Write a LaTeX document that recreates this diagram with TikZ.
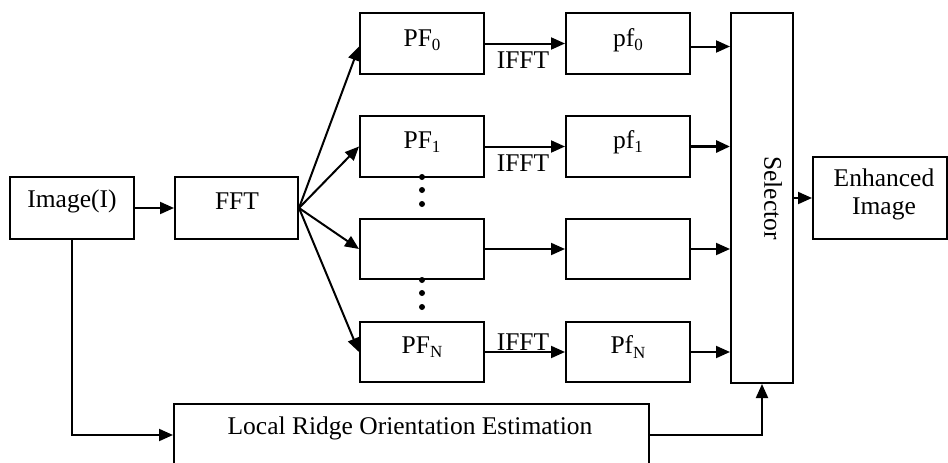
\documentclass[tikz,border=0pt]{standalone}
\usepackage{fontspec}
\setmainfont{Liberation Serif}
\usetikzlibrary{arrows.meta,fit}
% lowered, smaller index used in the filter names
\newcommand{\sbs}[1]{\raisebox{-4.5pt}{\fontsize{17}{17}\selectfont #1}}
\begin{document}
\begin{tikzpicture}[x=1pt,y=-1pt,
  blk/.style={draw,line width=2pt,inner sep=0pt},
  lbl/.style={font=\fontsize{25.5}{28}\selectfont,inner sep=0pt},
  arr/.style={line width=2pt,-{Triangle[length=14pt,width=12pt]}},
  dotn/.style={circle,fill,inner sep=0pt,minimum size=6pt}]
\clip (0,0) rectangle (948,463);
\fill[white] (0,0) rectangle (948,463);

% blocks
\node[blk,fit={(10,177) (134,239)}] (img) {};
\node[blk,fit={(175,177) (298,239)}] (fft) {};
\node[blk,fit={(360,13) (484,74)}] (PF0) {};
\node[blk,fit={(360,116) (484,177)}] (PF1) {};
\node[blk,fit={(360,219) (484,279)}] (PFm) {};
\node[blk,fit={(360,322) (484,382)}] (PFN) {};
\node[blk,fit={(566,13) (690,74)}] (pf0) {};
\node[blk,fit={(566,116) (690,177)}] (pf1) {};
\node[blk,fit={(566,219) (690,279)}] (pfm) {};
\node[blk,fit={(566,322) (690,382)}] (pfN) {};
\node[blk,fit={(731,13) (793,383)}] (sel) {};
\node[blk,fit={(813,157) (947,239)}] (enh) {};
\node[blk,fit={(174,404) (649,466)}] (lroe) {};

% block texts
\node[lbl] (timg) at (72,201) {Image(I)};
\node[lbl] (tfft) at (237,201) {FFT};
\node[lbl] (tPF0) at (422,40) {PF\sbs{0}};
\node[lbl] (tPF1) at (422,142) {PF\sbs{1}};
\node[lbl] (tPFN) at (422,347) {PF\sbs{N}};
\node[lbl] (tpf0) at (628,40) {pf\sbs{0}};
\node[lbl] (tpf1) at (628,142) {pf\sbs{1}};
\node[lbl] (tpfN) at (628,347) {Pf\sbs{N}};
\node[lbl,rotate=-90] (tsel) at (773,198) {Selector};
\node[lbl,align=center] (tenh) at (884,194) {Enhanced\\Image};
\node[lbl] (tlroe) at (410,428) {Local Ridge Orientation Estimation};

% IFFT labels
\node[lbl] (i0) at (523,60) {IFFT};
\node[lbl] (i1) at (523,163) {IFFT};
\node[lbl] (iN) at (523,342) {IFFT};

% ellipsis dots between the filter rows
\node[dotn] (d1) at (422,177) {};
\node[dotn] (d2) at (422,190) {};
\node[dotn] (d3) at (422,204) {};
\node[dotn] (d4) at (422,280) {};
\node[dotn] (d5) at (422,293) {};
\node[dotn] (d6) at (422,307) {};

% connectors
\draw[arr] (img.east) -- (fft.west);
\coordinate (fan) at (fft.east);
\draw[arr] (fan) -- ([yshift=-3pt]PF0.west);
\draw[arr] (fan) -- (PF1.west);
\draw[arr] (fan) -- (PFm.west);
\draw[arr] (fan) -- (PFN.west);
\draw[arr] (PF0.east) -- (pf0.west);
\draw[arr] (PF1.east) -- (pf1.west);
\draw[arr] (PFm.east) -- (pfm.west);
\draw[arr] (PFN.east) -- (pfN.west);
\draw[arr] ([yshift=-3pt]pf0.east) -- ([yshift=-3pt]pf0.east -| sel.west);
\draw[arr,line width=3pt] (pf1.east) -- (pf1.east -| sel.west);
\draw[arr] (pfm.east) -- (pfm.east -| sel.west);
\draw[arr] (pfN.east) -- (pfN.east -| sel.west);
\draw[arr] (sel.east |- enh.west) -- (enh.west);
\draw[arr] (img.south) |- (lroe.west);
\draw[arr] (lroe.east) -| (sel.south);
\end{tikzpicture}
\end{document}
